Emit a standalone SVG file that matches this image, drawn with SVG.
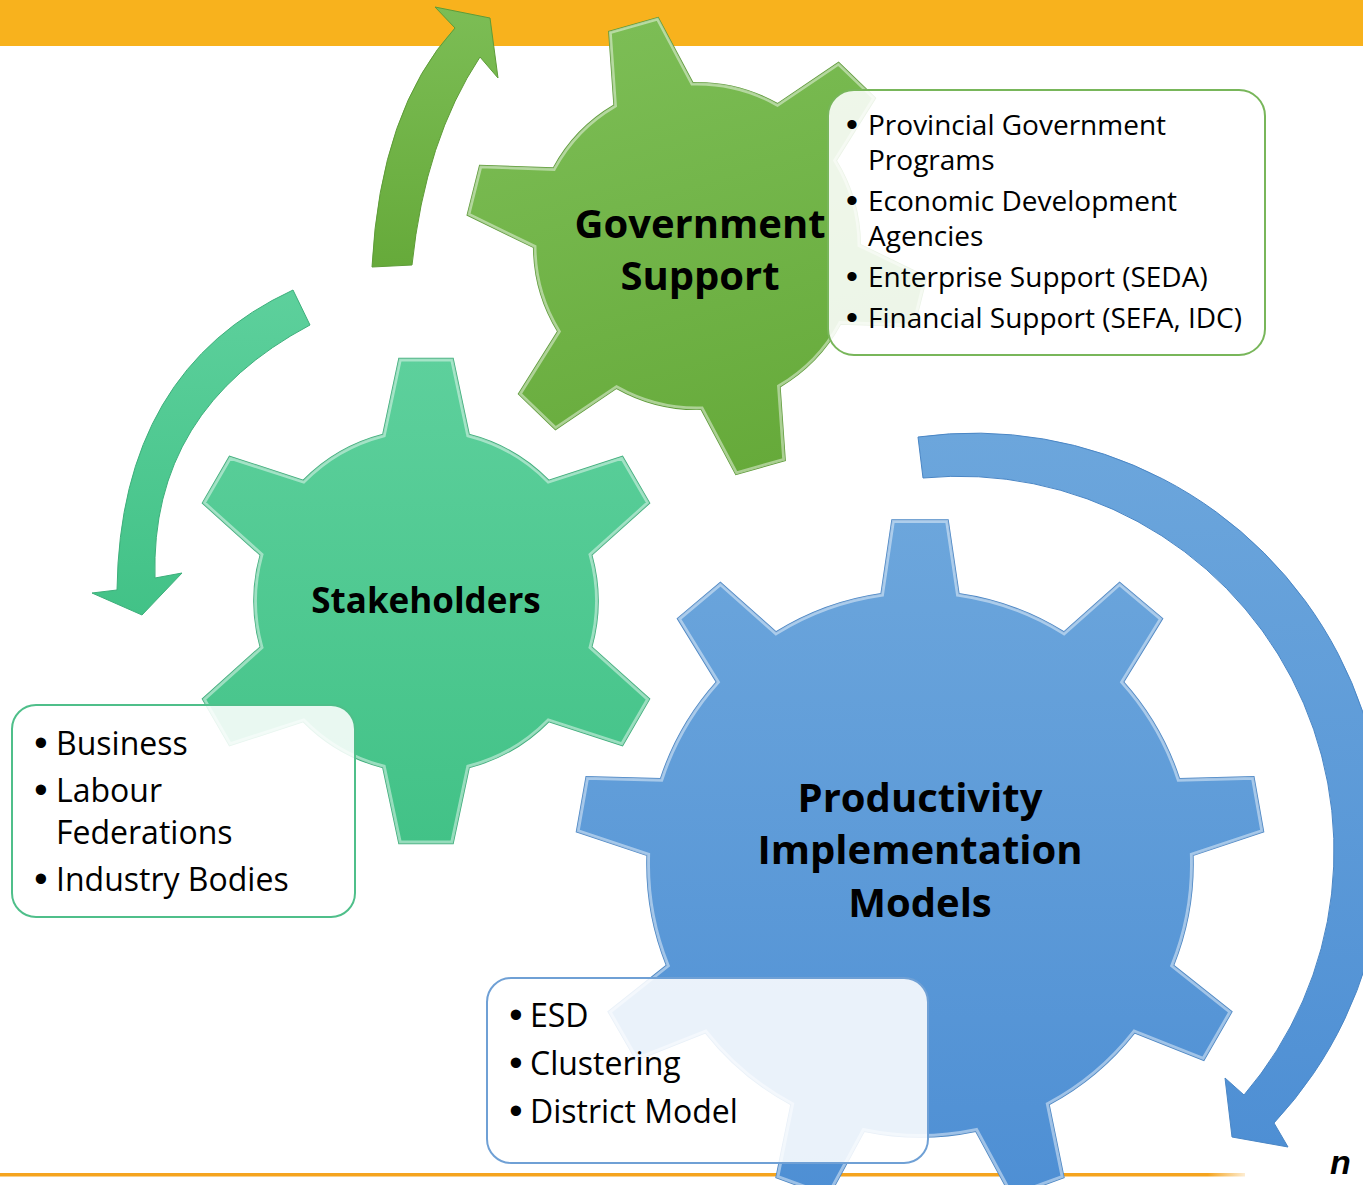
<svg xmlns="http://www.w3.org/2000/svg" width="1363" height="1185" viewBox="0 0 1363 1185">
<defs>
<style>
.lbl{font-family:"Open Sans","Liberation Sans",sans-serif;font-weight:bold;fill:#000;text-anchor:middle}
.item{font-family:"Open Sans","Liberation Sans",sans-serif;fill:#000}
.bul{font-family:"Liberation Sans",sans-serif;fill:#000;text-anchor:middle}
.box{fill:#fff;fill-opacity:0.88;stroke-width:2}
.hl{fill:none;stroke:#fff;stroke-opacity:0.45;stroke-width:6}
</style>
<linearGradient id="gGreen" x1="0" y1="0" x2="0" y2="1"><stop offset="0" stop-color="#7CBD55"/><stop offset="1" stop-color="#66AA3A"/></linearGradient>
<linearGradient id="gTeal" x1="0" y1="0" x2="0" y2="1"><stop offset="0" stop-color="#5DD09C"/><stop offset="1" stop-color="#42C287"/></linearGradient>
<linearGradient id="gBlue" x1="0" y1="0" x2="0" y2="1"><stop offset="0" stop-color="#6CA6DC"/><stop offset="1" stop-color="#4E8FD4"/></linearGradient>
<linearGradient id="gLine" x1="0" y1="0" x2="1" y2="0"><stop offset="0" stop-color="#F5A41E"/><stop offset="0.97" stop-color="#F5A41E"/><stop offset="1" stop-color="#F5A41E" stop-opacity="0.2"/></linearGradient>
<path id="gear6" d="M-43.1,-166.5 L-27,-242.5 L27,-242.5 L43.1,-166.5 A172,172 0 0 1 122.7,-120.6 L196.5,-144.6 L223.5,-97.9 L165.7,-46 A172,172 0 0 1 165.7,46 L223.5,97.9 L196.5,144.6 L122.7,120.6 A172,172 0 0 1 43.1,166.5 L27,242.5 L-27,242.5 L-43.1,166.5 A172,172 0 0 1 -122.7,120.6 L-196.5,144.6 L-223.5,97.9 L-165.7,46 A172,172 0 0 1 -165.7,-46 L-223.5,-97.9 L-196.5,-144.6 L-122.7,-120.6 A172,172 0 0 1 -43.1,-166.5 Z"/>
<path id="gear9" d="M-38.9,-270.2 L-28,-343.9 L28,-343.9 L38.9,-270.2 A273,273 0 0 1 143.9,-232 L199.6,-281.4 L242.5,-245.4 L203.5,-182 A273,273 0 0 1 259.4,-85.3 L333.8,-87.2 L343.5,-32.2 L272.9,-8.6 A273,273 0 0 1 253.5,101.4 L311.8,147.7 L283.8,196.2 L214.6,168.8 A273,273 0 0 1 129,240.6 L143.9,313.6 L91.3,332.7 L55.8,267.2 A273,273 0 0 1 -55.8,267.2 L-91.3,332.7 L-143.9,313.6 L-129,240.6 A273,273 0 0 1 -214.6,168.8 L-283.8,196.2 L-311.8,147.7 L-253.5,101.4 A273,273 0 0 1 -272.9,-8.6 L-343.5,-32.2 L-333.8,-87.2 L-259.4,-85.3 A273,273 0 0 1 -203.5,-182 L-242.5,-245.4 L-199.6,-281.4 L-143.9,-232 A273,273 0 0 1 -38.9,-270.2 Z"/>
<clipPath id="c6"><use href="#gear6"/></clipPath>
<clipPath id="c9"><use href="#gear9"/></clipPath>
</defs>

<rect width="1363" height="1185" fill="#fff"/>
<rect x="0" y="0" width="1363" height="46" fill="#F8B21D"/>
<rect x="0" y="1173" width="1245" height="3.5" fill="url(#gLine)"/>
<text x="1330" y="1174" font-family="Liberation Sans,sans-serif" font-weight="bold" font-style="italic" font-size="34" fill="#000">n</text>

<g id="connectors">
<path d="M372,267 Q380,110 455,28 L435,7 L490,18 L498,78 L480,57 Q425,140 412,265 Z" fill="url(#gGreen)" stroke="#5E9C38" stroke-width="1"/>
<path d="M293,290 L310,325 Q150,410 155,578 L182,573 L142,615 L92,593 L117,590 Q120,370 293,290 Z" fill="url(#gTeal)" stroke="#3DAF7B" stroke-width="1"/>
<path d="M918,437 A410,410 0 0 1 1274,1123 L1288,1147 L1232,1137 L1225,1078 L1244,1095 A375,375 0 0 0 923,478 Z" fill="url(#gBlue)" stroke="#4A86C5" stroke-width="1"/>
</g>

<g id="stakeholders">
<use href="#gear6" transform="translate(426,601)" fill="url(#gTeal)" stroke="#3DAF7B" stroke-width="1.5"/>
<use href="#gear6" transform="translate(426,601)" class="hl" clip-path="url(#c6)"/>
<text class="lbl" x="426" y="613" font-size="35">Stakeholders</text>
</g>

<g id="government">
<use href="#gear6" transform="translate(697,246) rotate(-16) scale(0.95)" fill="url(#gGreen)" stroke="#5E9C38" stroke-width="1.5"/>
<use href="#gear6" transform="translate(697,246) rotate(-16) scale(0.95)" class="hl" clip-path="url(#c6)"/>
<text class="lbl" x="700" y="238" font-size="40">Government</text>
<text class="lbl" x="700" y="290" font-size="40">Support</text>
</g>

<g id="productivity">
<use href="#gear9" transform="translate(920,864)" fill="url(#gBlue)" stroke="#4A86C5" stroke-width="1.5"/>
<use href="#gear9" transform="translate(920,864)" class="hl" clip-path="url(#c9)"/>
<text class="lbl" x="920" y="812" font-size="40">Productivity</text>
<text class="lbl" x="920" y="864" font-size="40">Implementation</text>
<text class="lbl" x="920" y="917" font-size="40">Models</text>
</g>

<g id="gov-box">
<rect class="box" x="828" y="90" width="437" height="265" rx="26" stroke="#78B65A"/>
<text class="bul" font-size="34"><tspan x="852" y="136">•</tspan><tspan x="852" y="212">•</tspan><tspan x="852" y="288">•</tspan><tspan x="852" y="329">•</tspan></text>
<text class="item" font-size="28"><tspan x="868" y="135">Provincial Government</tspan><tspan x="868" y="170">Programs</tspan><tspan x="868" y="211">Economic Development</tspan><tspan x="868" y="246">Agencies</tspan><tspan x="868" y="287">Enterprise Support (SEDA)</tspan><tspan x="868" y="328">Financial Support (SEFA, IDC)</tspan></text>
</g>

<g id="stake-box">
<rect class="box" x="12" y="705" width="343" height="212" rx="24" stroke="#4FBF8A"/>
<text class="bul" font-size="38"><tspan x="41" y="756">•</tspan><tspan x="41" y="803">•</tspan><tspan x="41" y="892">•</tspan></text>
<text class="item" font-size="32"><tspan x="56" y="755">Business</tspan><tspan x="56" y="802">Labour</tspan><tspan x="56" y="844">Federations</tspan><tspan x="56" y="891">Industry Bodies</tspan></text>
</g>

<g id="prod-box">
<rect class="box" x="487" y="978" width="441" height="185" rx="24" stroke="#6FA0D5"/>
<text class="bul" font-size="38"><tspan x="516" y="1028">•</tspan><tspan x="516" y="1076">•</tspan><tspan x="516" y="1124">•</tspan></text>
<text class="item" font-size="32"><tspan x="530" y="1027">ESD</tspan><tspan x="530" y="1075">Clustering</tspan><tspan x="530" y="1123">District Model</tspan></text>
</g>
</svg>
